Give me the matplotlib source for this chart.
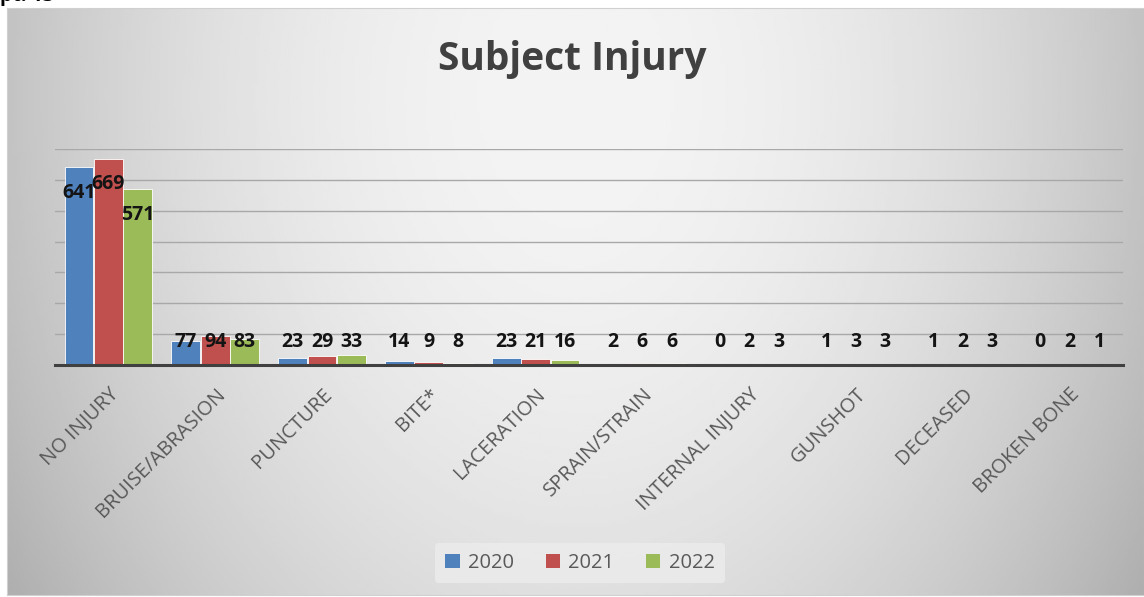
import numpy as np
import matplotlib
matplotlib.use("Agg")
import matplotlib.pyplot as plt
from matplotlib.patches import Patch

categories = ["NO INJURY", "BRUISE/ABRASION", "PUNCTURE", "BITE*", "LACERATION",
              "SPRAIN/STRAIN", "INTERNAL INJURY", "GUNSHOT", "DECEASED", "BROKEN BONE"]
years = ["2020", "2021", "2022"]
counts_2020 = [641, 77, 23, 14, 23, 2, 0, 1, 1, 0]
counts_2021 = [669, 94, 29, 9, 21, 6, 2, 3, 2, 2]
counts_2022 = [571, 83, 33, 8, 16, 6, 3, 3, 3, 1]
series = [counts_2020, counts_2021, counts_2022]
colors = ["#4F81BD", "#C0504D", "#9BBB59"]

plt.rcParams['font.family'] = ['Open Sans', 'DejaVu Sans']

W, H = 1144, 597
fig = plt.figure(figsize=(W / 100, H / 100), dpi=100)
fig.patch.set_facecolor("white")

# gray gradient panel behind the chart
bg = fig.add_axes([7 / W, 2 / H, (W - 7) / W, (H - 10) / H], zorder=0)
xx, yy = np.meshgrid(np.linspace(-1, 1, 400), np.linspace(0, 1, 200))
r = np.sqrt(xx ** 2 + ((yy - 0.15) / 1.3) ** 2)
shade = np.clip(0.955 - 0.19 * r ** 2, 0, 1)
bg.imshow(shade, cmap="gray", vmin=0, vmax=1, aspect="auto", extent=[0, 1, 0, 1], origin="upper")
bg.set_xticks([])
bg.set_yticks([])
for s in bg.spines.values():
    s.set_color("#d0d0d0")
    s.set_linewidth(0.8)

ax = fig.add_axes([55 / W, (H - 365) / H, (1123 - 55) / W, (365 - 149) / H], zorder=1)
ax.patch.set_alpha(0)
ax.set_ylim(0, 700)
ax.set_xlim(-0.5, len(categories) - 0.5)
for v in range(100, 701, 100):
    ax.axhline(v, color="#a8a8a8", lw=1, zorder=1)
ax.axhline(0, color="#404040", lw=2.2, zorder=4, clip_on=False)

x = np.arange(len(categories))
offsets = [-0.275, 0, 0.275]
for vals, off, col, yr in zip(series, offsets, colors, years):
    ax.bar(x + off, vals, width=0.27, color=col, edgecolor="white", linewidth=0.6, zorder=3, label=yr)
    for xi, v in zip(x, vals):
        ax.text(xi + off, max(v - 84, 74), str(v), ha="center", va="center",
                fontsize=14, fontweight="bold", color="#141414", zorder=5)

for s in ax.spines.values():
    s.set_visible(False)
ax.set_yticks([])
ax.set_xticks(x)
ax.set_xticklabels(categories, rotation=45, ha="right", rotation_mode="anchor",
                   fontsize=14.5, color="#595959")
ax.tick_params(axis="x", length=0, pad=14)

fig.text(0.5, 1 - 70 / H, "Subject Injury", ha="center", va="baseline",
         fontsize=28, fontweight="bold", color="#404040")
fig.text(0.0, 1 - 1 / H, "pt. 13", ha="left", va="baseline",
         fontsize=14, fontweight="bold", color="black")

handles = [Patch(facecolor=c, label=y) for c, y in zip(colors, years)]
leg = fig.legend(handles=handles, loc="center", bbox_to_anchor=(580 / W, 1 - 563 / H),
                 ncol=3, frameon=True, fontsize=14.5, handlelength=0.7, handleheight=0.7,
                 handletextpad=0.4, columnspacing=1.6, borderpad=0.5)
leg.get_frame().set_facecolor("#ebebeb")
leg.get_frame().set_edgecolor("none")
leg.get_frame().set_alpha(0.9)
for t in leg.get_texts():
    t.set_color("#595959")

fig.savefig("out.png", dpi=100)
